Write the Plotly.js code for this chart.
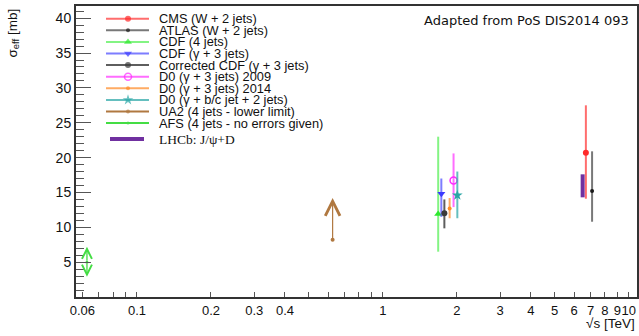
<!DOCTYPE html>
<html><head><meta charset="utf-8">
<script src="https://cdn.plot.ly/plotly-3.0.1.min.js"></script>
<style>html,body{margin:0;padding:0;background:#fff}#chart{width:639px;height:336px}</style>
</head><body><div id="chart"></div>
<script>
// ---- data ----
const seriesNames = ['CMS (W + 2 jets)', 'ATLAS (W + 2 jets)', 'CDF (4 jets)', 'CDF (γ + 3 jets)',
  'Corrected CDF (γ + 3 jets)', 'D0 (γ + 3 jets) 2009', 'D0 (γ + 3 jets) 2014',
  'D0 (γ + b/c jet + 2 jets)', 'UA2 (4 jets - lower limit)', 'AFS (4 jets - no errors given)'];
const energyTeV = [6.7, 7.1, 1.68, 1.73, 1.78, 1.94, 1.87, 2.01, 0.625, 0.0626];
const sigmaEff  = [20.7, 15.2, 11.9, 14.8, 12.0, 16.7, 12.7, 14.6, 8.2, 5.0];
const errUp     = [6.8, 5.7, 11.1, 2.2, 2.0, 3.9, 1.5, 3.4, null, null];
const errDown   = [6.6, 4.4, 5.4, 3.3, 2.15, 3.8, 1.4, 3.3, null, null];
const ua2ArrowTip = [14.2];
const afsArrowTips = [7.2, 2.9];
const lhcbName = 'LHCb: J/ψ+D';
const lhcbEnergy = [6.5, 6.5];
const lhcbRange = [14.3, 17.6];
const xTickVals = [0.06, 0.1, 0.2, 0.3, 0.4, 1, 2, 3, 4, 5, 6, 7, 8, 9, 10];
const xTickText = ['0.06', '0.1', '0.2', '0.3', '0.4', '1', '2', '3', '4', '5', '6', '7', '8', '9', '10'];
const xMinorVals = [0.07, 0.08, 0.09, 0.5, 0.6, 0.7, 0.8, 0.9];
const xLongTicks = [0.1, 1, 10];
const yTickVals = [5, 10, 15, 20, 25, 30, 35, 40];

// ---- styles ----
const colors = ['#ff2a2a', '#1a1a1a', '#2ee82e', '#3a3aff', '#3a3a3a', '#ff2aff', '#ff8c26', '#2aa6a6', '#b07840', '#44dd44'];
const barColors = ['rgba(255,60,60,0.75)', 'rgba(30,30,30,0.6)', 'rgba(90,240,90,0.75)', 'rgba(70,70,255,0.7)',
  'rgba(40,40,40,0.75)', 'rgba(255,60,255,0.75)', 'rgba(255,150,60,0.8)', 'rgba(50,170,170,0.75)', '#b07840', '#44dd44'];
const symbols = ['circle', 'circle', 'triangle-up', 'triangle-down', 'circle', 'circle-open', 'circle', 'star', 'circle', 'circle'];
const sizes = [6, 4, 7, 7, 6, 7, 4, 8, 4, 3];
const lhcbColor = '#7030a0';
const FONT = 'Liberation Sans, Arial, sans-serif';

// plot area in page pixels
const L = 76, R = 637, T = 6, B = 297;
const px2paperX = p => (p - L) / (R - L);
const px2paperY = p => (B - p) / (B - T);

const traces = [];
for (let i = 0; i < seriesNames.length; i++) {
  const t = {
    type: 'scatter', mode: 'markers', x: [energyTeV[i]], y: [sigmaEff[i]], name: seriesNames[i],
    marker: {symbol: symbols[i], size: sizes[i], color: colors[i], line: {color: colors[i], width: symbols[i].endsWith('open') ? 1.5 : 0}},
    showlegend: false, cliponaxis: false
  };
  if (errUp[i] !== null) {
    t.error_y = {type: 'data', symmetric: false, array: [errUp[i]], arrayminus: [errDown[i]],
      color: barColors[i], thickness: 2, width: 0};
  }
  traces.push(t);
}
// LHCb band
traces.push({type: 'scatter', mode: 'lines', x: lhcbEnergy, y: lhcbRange, name: lhcbName,
  line: {color: lhcbColor, width: 4}, showlegend: false});

// ---- custom legend (overlay axes in page pixels) ----
const legRow0 = 18.7, legPitch = 11.6, legLineX = [106, 128, 149], legTextX = 158;
const annotations = [];
for (let i = 0; i < seriesNames.length; i++) {
  const yy = legRow0 + i * legPitch;
  traces.push({type: 'scatter', mode: 'lines+markers', xaxis: 'x2', yaxis: 'y2',
    x: legLineX, y: [yy, yy, yy], showlegend: false, hoverinfo: 'skip',
    line: {color: barColors[i], width: 2},
    marker: {symbol: symbols[i], size: [0, sizes[i], 0], color: colors[i],
      line: {color: colors[i], width: symbols[i].endsWith('open') ? 1.5 : 0}}});
  annotations.push({xref: 'x2', yref: 'y2', x: legTextX, y: yy, xanchor: 'left', yanchor: 'middle',
    text: seriesNames[i], showarrow: false, borderpad: 0, font: {family: FONT, size: 12.8, color: '#111'}});
}
const lhcbRowY = legRow0 + (seriesNames.length - 1) * legPitch + 16;
traces.push({type: 'scatter', mode: 'lines', xaxis: 'x2', yaxis: 'y2', x: [110, 144], y: [lhcbRowY, lhcbRowY],
  line: {color: lhcbColor, width: 4}, showlegend: false, hoverinfo: 'skip'});
annotations.push({xref: 'x2', yref: 'y2', x: legTextX, y: lhcbRowY, xanchor: 'left', yanchor: 'middle',
  text: lhcbName, showarrow: false, borderpad: 0, font: {family: 'Liberation Serif, Times New Roman, serif', size: 13.5, color: '#111'}});

// ---- arrows: UA2 lower limit, AFS double arrow ----
const ua2 = 8, afs = 9;
annotations.push({xref: 'x', yref: 'y', axref: 'x', ayref: 'y',
  x: Math.log10(energyTeV[ua2]), y: ua2ArrowTip[0], ax: Math.log10(energyTeV[ua2]), ay: sigmaEff[ua2],
  text: '', showarrow: true, arrowhead: 5, arrowsize: 2.4, arrowwidth: 1.2, arrowcolor: colors[ua2], standoff: 0, startstandoff: 0});
afsArrowTips.forEach(tip => annotations.push({xref: 'x', yref: 'y', axref: 'x', ayref: 'y',
  x: Math.log10(energyTeV[afs]), y: tip, ax: Math.log10(energyTeV[afs]), ay: sigmaEff[afs],
  text: '', showarrow: true, arrowhead: 5, arrowsize: 1.5, arrowwidth: 1.3, arrowcolor: colors[afs], standoff: 0, startstandoff: 0}));

// ---- texts ----
annotations.push({xref: 'paper', yref: 'paper', x: px2paperX(631), y: px2paperY(20.5), xanchor: 'right', yanchor: 'middle',
  text: 'Adapted from PoS DIS2014 093', showarrow: false, font: {family: 'DejaVu Sans, sans-serif', size: 13, color: '#111'}});
annotations.push({xref: 'paper', yref: 'paper', x: px2paperX(637), y: px2paperY(323), xanchor: 'right', yanchor: 'middle',
  text: '√s [TeV]', showarrow: false, font: {family: FONT, size: 13.5, color: '#111'}});
annotations.push({xref: 'paper', yref: 'paper', x: px2paperX(13), y: px2paperY(33.5), xanchor: 'center', yanchor: 'middle', textangle: -90,
  text: 'σ<sub>eff</sub> [mb]', showarrow: false, font: {family: FONT, size: 13.5, color: '#111'}});

const layout = {
  width: 639, height: 336, margin: {l: L, r: 639 - R, t: T, b: 336 - B},
  paper_bgcolor: '#fff', plot_bgcolor: '#fff', showlegend: false,
  font: {family: FONT, size: 13, color: '#111'},
  xaxis: {type: 'log', range: [-1.248, 1.034], tickmode: 'array', tickvals: xTickVals, ticktext: xTickText, tickangle: 0,
    ticks: 'inside', ticklen: 5, tickwidth: 1, tickcolor: '#555', showgrid: false, zeroline: false,
    showline: true, mirror: true, linecolor: '#333', linewidth: 2,
    minor: {tickvals: xMinorVals, ticks: 'inside', ticklen: 5, tickwidth: 1, tickcolor: '#555', showgrid: false},
    tickfont: {family: FONT, size: 13, color: '#111'}},
  xaxis3: {type: 'log', overlaying: 'x', anchor: 'y', range: [-1.248, 1.034], tickmode: 'array', tickvals: xLongTicks,
    ticks: 'inside', ticklen: 9, tickwidth: 1, tickcolor: '#555', showticklabels: false, showgrid: false,
    zeroline: false, showline: false},
  yaxis: {range: [0, 41.75], tickmode: 'array', tickvals: yTickVals, ticks: 'inside', ticklen: 15, tickwidth: 1,
    tickcolor: '#555', showgrid: false, zeroline: false, showline: true, mirror: true, linecolor: '#333', linewidth: 2,
    minor: {dtick: 1, tick0: 0, ticks: 'inside', ticklen: 8, tickwidth: 1, tickcolor: '#555', showgrid: false},
    tickfont: {family: FONT, size: 14, color: '#111'}},
  xaxis2: {overlaying: 'x', anchor: 'y2', range: [L, R], visible: false, fixedrange: true},
  yaxis2: {overlaying: 'y', anchor: 'x2', range: [B, T], visible: false, fixedrange: true},
  annotations: annotations
};
Plotly.newPlot('chart', traces, layout, {staticPlot: true});
</script></body></html>
